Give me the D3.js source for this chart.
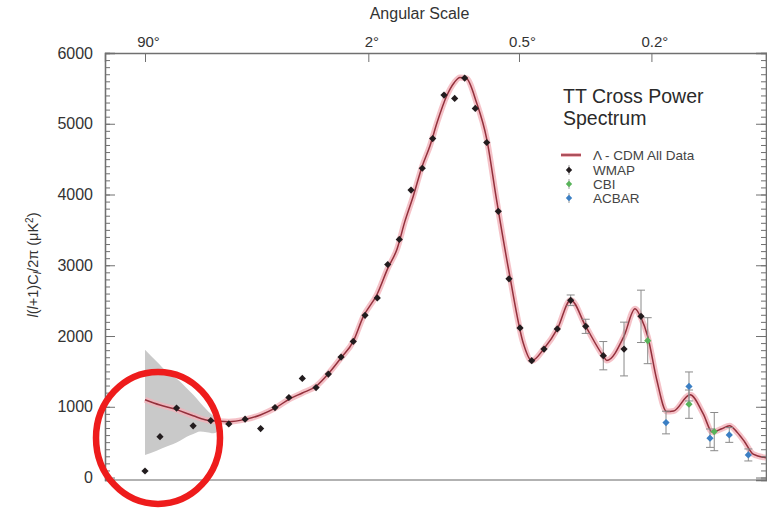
<!DOCTYPE html>
<html><head><meta charset="utf-8">
<script src="https://cdn.jsdelivr.net/npm/d3@7"></script>
<style>
body{margin:0;background:#fff}
svg{display:block}
text{font-family:"Liberation Sans",Arial,Helvetica,sans-serif}
</style>
</head><body>
<svg id="c" width="767" height="508"></svg>
<script>
// ---- data ----
const modelEll    = [2,3,4.5,6.5,9.3,13,17.2,22,27.5,33.6,40.4,48.4,57,66,76,85,99,111,122,132,143.5,156,168.4,180,196.5,210,221,234,255,278,301,335,372,397,435,480,528,586,660,676,757,812,843,880,930,988,1030,1135,1225,1290,1360,1420,1480,1540,1615,1728];
const modelValues = [1100,1025,960,872,801,790,822,884,980,1105,1195,1290,1480,1695,1925,2270,2590,2960,3230,3620,3980,4390,4690,5020,5395,5580,5655,5640,5300,4780,3930,2845,1902,1650,1820,2100,2510,2140,1720,1655,2000,2385,2260,1990,1382,932,940,1169,900,640,690,730,640,510,330,280];

const bandEll  = [2,2.75,3.55,4.87,5.66,6.52,7.5,8.58,9.76,10.4,11.5];
const bandHigh = [1807,1641,1499,1357,1260,1169,1060,957,870,839,800];
const bandLow  = [320,380,437,520,578,615,649,640,626,640,790];

const wmapEll    = [2,3,4.5,6.5,9.3,13,17.2,22.1,27.5,33.6,40.4,48.4,56.5,65.9,76,86.8,99.2,110.8,124.8,140.3,156.5,172.7,191.7,211,230.4,252.4,277.8,305.5,332.8,362.9,396.9,435.3,479.8,528,586.3,660.6,756.9,843.4];
const wmapValues = [92,578,981,730,805,758,825,692,989,1131,1400,1272,1462,1703,1924,2293,2539,3011,3365,4063,4371,4791,5405,5358,5646,5216,4735,3762,2808,2114,1651,1816,2100,2505,2137,1722,1816,2278];
const wmapErr    = [0,0,0,0,0,0,0,0,0,0,0,0,0,0,0,0,0,0,0,0,0,0,0,0,0,0,0,0,0,0,0,0,0,75,100,200,380,370];

const cbiEll    = [879.5,1128,1304];
const cbiValues = [1934,1037,649];
const cbiErr    = [325,200,270];

const acbarEll    = [984,1128,1273,1418,1573];
const acbarValues = [777,1287,556,602,319];
const acbarErr    = [160,205,130,105,85];

const yTicks = [0,1000,2000,3000,4000,5000,6000];
const topTickEll = [2,90,360,900];
const topTickLabels = ["90°","2°","0.5°","0.2°"];
const legendLabels = ["Λ - CDM All Data","WMAP","CBI","ACBAR"];
const titleLines = ["TT Cross Power","Spectrum"];
const circleEll = 2.85, circleValue = 560;

// ---- layout ----
const L = 105, R = 766, T = 53, B = 480;
const svg = d3.select("#c");
const x = d3.scalePow().exponent(0.25).domain([0.523,1728]).range([L,R]);
const y = d3.scaleLinear().domain([-35,6000]).range([B,T]);
const axisCol = "#707070";
const lineCol = "#93303c", haloCol = "#f2b3ba";

// square-ish diamond symbol
const rhombus = {draw(ctx,size){const r=Math.sqrt(size/2);ctx.moveTo(0,-r);ctx.lineTo(r,0);ctx.lineTo(0,r);ctx.lineTo(-r,0);ctx.closePath();}};

// band
const band = bandEll.map((l,i)=>({l,hi:bandHigh[i],lo:bandLow[i]}));
svg.append("path").datum(band)
  .attr("d", d3.area().x(d=>x(d.l)).y0(d=>y(d.lo)).y1(d=>y(d.hi)).curve(d3.curveMonotoneX))
  .attr("fill","#c9c9c9");

// model curve
const model = modelEll.map((l,i)=>({l,v:modelValues[i]}));
const line = d3.line().x(d=>x(d.l)).y(d=>y(d.v)).curve(d3.curveMonotoneX);
svg.append("path").datum(model).attr("d",line)
  .attr("fill","none").attr("stroke",haloCol).attr("stroke-width",6).attr("stroke-opacity",0.8);
svg.append("path").datum(model).attr("d",line)
  .attr("fill","none").attr("stroke",lineCol).attr("stroke-width",1.5);

// axes frame
function styleAxis(g){ g.selectAll("path,line").attr("stroke",axisCol); g.select(".domain").attr("stroke-width",1.3); }
svg.append("line").attr("x1",L).attr("x2",R).attr("y1",B).attr("y2",B).attr("stroke","#999").attr("stroke-width",1.5);

const minor = d3.range(0,6001,100);
svg.append("g").attr("transform",`translate(${L},0)`)
  .call(d3.axisLeft(y).tickValues(minor).tickSize(-5).tickFormat("")).call(styleAxis);
svg.append("g").attr("transform",`translate(${L},0)`)
  .call(d3.axisLeft(y).tickValues(yTicks).tickSize(-10).tickPadding(12).tickFormat(d3.format("d")))
  .call(styleAxis)
  .call(g=>g.selectAll("text").attr("font-size",16).attr("fill","#333"));
svg.append("g").attr("transform",`translate(${R},0)`)
  .call(d3.axisRight(y).tickValues(minor).tickSize(-5).tickFormat("")).call(styleAxis);
svg.append("g").attr("transform",`translate(${R},0)`)
  .call(d3.axisRight(y).tickValues(yTicks).tickSize(-10).tickFormat("")).call(styleAxis);
svg.append("g").attr("transform",`translate(0,${T})`)
  .call(d3.axisTop(x).tickValues(topTickEll).tickSize(-9).tickPadding(6).tickFormat((d,i)=>topTickLabels[i]))
  .call(styleAxis)
  .call(g=>g.selectAll("text").attr("font-size",15).attr("fill","#333").attr("dx","0.2em"));

svg.append("text").attr("x",(L+R)/2 - 16).attr("y",19).attr("text-anchor","middle")
  .attr("font-size",16).attr("fill","#333").text("Angular Scale");

// y label
const yl = svg.append("text").attr("transform","translate(38,265) rotate(-90)")
  .attr("text-anchor","middle").attr("font-size",14.5).attr("fill","#333");
yl.append("tspan").attr("font-style","italic").text("l");
yl.append("tspan").text("(");
yl.append("tspan").attr("font-style","italic").text("l");
yl.append("tspan").text("+1)C");
yl.append("tspan").attr("font-style","italic").attr("font-size",11).attr("dy",3).text("l");
yl.append("tspan").attr("dy",-3).text("/2π (μK");
yl.append("tspan").attr("font-size",10).attr("dy",-5).text("2");
yl.append("tspan").attr("dy",5).text(")");

// points
const diamond = d3.symbol(rhombus).size(26);
function drawSeries(ells, vals, errs, color){
  const data = ells.map((l,i)=>({l,v:vals[i],e:errs[i]}));
  const g = svg.append("g");
  const eb = g.selectAll("g.eb").data(data.filter(d=>d.e>0)).join("g").attr("stroke","#8a8a8a").attr("stroke-width",1);
  eb.append("line").attr("x1",d=>x(d.l)).attr("x2",d=>x(d.l)).attr("y1",d=>y(d.v-d.e)).attr("y2",d=>y(d.v+d.e));
  eb.append("line").attr("x1",d=>x(d.l)-4).attr("x2",d=>x(d.l)+4).attr("y1",d=>y(d.v-d.e)).attr("y2",d=>y(d.v-d.e));
  eb.append("line").attr("x1",d=>x(d.l)-4).attr("x2",d=>x(d.l)+4).attr("y1",d=>y(d.v+d.e)).attr("y2",d=>y(d.v+d.e));
  g.selectAll("path").data(data).join("path").attr("d",diamond)
    .attr("transform",d=>`translate(${x(d.l)},${y(d.v)})`).attr("fill",color);
}
drawSeries(wmapEll,wmapValues,wmapErr,"#221c1e");
drawSeries(cbiEll,cbiValues,cbiErr,"#58b35a");
drawSeries(acbarEll,acbarValues,acbarErr,"#3b7fc4");

// legend
const lg = svg.append("g");
titleLines.forEach((t,i)=>lg.append("text").attr("x",563).attr("y",103+i*22).attr("font-size",19.5).attr("fill","#2a2a2a").text(t));
const legY = [155,170,184,198];
const legCol = [null,"#221c1e","#58b35a","#3b7fc4"];
legendLabels.forEach((t,i)=>{
  if(i===0){
    lg.append("line").attr("x1",561).attr("x2",581).attr("y1",legY[i]).attr("y2",legY[i]).attr("stroke",haloCol).attr("stroke-width",4);
    lg.append("line").attr("x1",561).attr("x2",581).attr("y1",legY[i]).attr("y2",legY[i]).attr("stroke",lineCol).attr("stroke-width",1.5);
  } else {
    lg.append("line").attr("x1",569).attr("x2",569).attr("y1",legY[i]-5).attr("y2",legY[i]+5).attr("stroke","#999");
    lg.append("path").attr("d",d3.symbol(rhombus).size(20)).attr("transform",`translate(569,${legY[i]})`).attr("fill",legCol[i]);
  }
  lg.append("text").attr("x",593).attr("y",legY[i]+5).attr("font-size",13.5).attr("fill","#444").text(t);
});

// red annotation circle
svg.append("ellipse").attr("cx",x(circleEll)).attr("cy",y(circleValue)).attr("rx",62).attr("ry",66)
  .attr("fill","none").attr("stroke","#ee1c1c").attr("stroke-width",6.5);
</script>
</body></html>
